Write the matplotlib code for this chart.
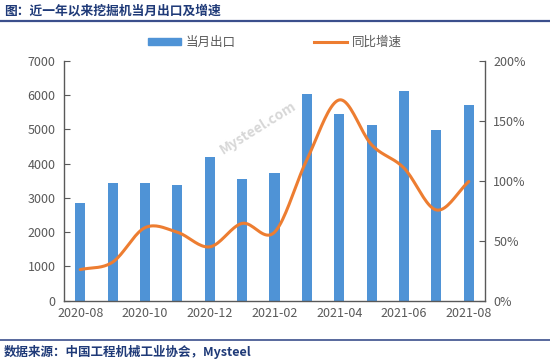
import numpy as np
import matplotlib
matplotlib.use("Agg")
import matplotlib.pyplot as plt
from matplotlib.ticker import FuncFormatter, MultipleLocator
from matplotlib.patches import Patch
from matplotlib.lines import Line2D

plt.rcParams['font.family'] = ['Noto Sans CJK SC', 'DejaVu Sans']

months = ["2020-08", "2020-09", "2020-10", "2020-11", "2020-12", "2021-01", "2021-02",
          "2021-03", "2021-04", "2021-05", "2021-06", "2021-07", "2021-08"]
exports = [2840, 3420, 3420, 3380, 4200, 3550, 3720, 6040, 5450, 5140, 6110, 4990, 5700]
growth = [25.8, 32, 60.8, 57, 44.8, 64.4, 57, 117.6, 167.5, 130, 110.6, 75.6, 99.4]

title = "图：近一年以来挖掘机当月出口及增速"
source = "数据来源：中国工程机械工业协会，Mysteel"

BLUE = "#4f93d6"
ORANGE = "#ed7d31"
GREY = "#595959"
NAVY = "#1f3a78"
W, H = 550, 361


def smooth(xs, ys, n=20):
    xs = np.asarray(xs, float); ys = np.asarray(ys, float)
    px = np.concatenate([[2 * xs[0] - xs[1]], xs, [2 * xs[-1] - xs[-2]]])
    py = np.concatenate([[2 * ys[0] - ys[1]], ys, [2 * ys[-1] - ys[-2]]])
    ox, oy = [], []
    for i in range(1, len(px) - 2):
        t = np.linspace(0, 1, n, endpoint=False)
        for arr, out in ((px, ox), (py, oy)):
            p0, p1, p2, p3 = arr[i - 1], arr[i], arr[i + 1], arr[i + 2]
            out.extend(0.5 * ((2 * p1) + (-p0 + p2) * t + (2 * p0 - 5 * p1 + 4 * p2 - p3) * t ** 2
                              + (-p0 + 3 * p1 - 3 * p2 + p3) * t ** 3))
    ox.append(xs[-1]); oy.append(ys[-1])
    return np.array(ox), np.array(oy)


fig = plt.figure(figsize=(5.5, 3.61), dpi=100)
ax = fig.add_axes([64 / W, 1 - 300.5 / H, (485 - 64) / W, (300.5 - 61) / H])
x = np.arange(len(months))
ax.bar(x, exports, width=0.31, color=BLUE, zorder=2, label="当月出口")
ax.set_ylim(0, 7000)
ax.set_xlim(-0.5, len(months) - 0.5)
ax.yaxis.set_major_locator(MultipleLocator(1000))
ax.set_xticks(x[::2])
ax.set_xticklabels(months[::2])

ax2 = ax.twinx()
sx, sy = smooth(x, growth)
ax2.plot(sx, sy, color=ORANGE, lw=2.2, zorder=3, label="同比增速", solid_capstyle='round')
ax2.set_ylim(0, 200)
ax2.yaxis.set_major_locator(MultipleLocator(50))
ax2.yaxis.set_major_formatter(FuncFormatter(lambda v, p: f"{v:.0f}%"))

for a in (ax, ax2):
    a.spines["top"].set_visible(False)
    for s in ("left", "right", "bottom"):
        a.spines[s].set_color(GREY)
        a.spines[s].set_linewidth(1.0)
ax.spines["right"].set_visible(False)
ax2.spines["left"].set_visible(False)
ax2.spines["bottom"].set_visible(False)

ax.tick_params(axis='y', direction='in', length=4, color=GREY, labelcolor=GREY, labelsize=9, pad=6)
ax.tick_params(axis='x', length=0, labelcolor=GREY, labelsize=9, pad=5)
ax2.tick_params(axis='y', direction='in', length=4, color=GREY, labelcolor=GREY, labelsize=9, pad=6)

# legend
handles = [Patch(color=BLUE), Line2D([0], [0], color=ORANGE, lw=2.2)]
fig.legend(handles, ["当月出口", "同比增速"], loc='center', bbox_to_anchor=(0.5, 1 - 42 / H), ncol=2,
           frameon=False, fontsize=9, labelcolor=GREY, handlelength=2.6, handleheight=0.5,
           columnspacing=6.3, handletextpad=0.4, borderpad=0)

# watermark
fig.text(258 / W, 1 - 128 / H, "Mysteel.com", rotation=32, color="#bdbdbd", alpha=0.6, fontsize=10,
         ha='center', va='center', fontweight='bold', zorder=0)

# title and source
fig.text(4 / W, 1 - 11 / H, title, fontsize=9.2, fontweight='bold', color=NAVY, ha='left', va='center')
fig.add_artist(Line2D([0, 1], [1 - 20.5 / H, 1 - 20.5 / H], color="#3b4f8c", lw=1.6))
fig.add_artist(Line2D([0, 1], [1 - 340 / H, 1 - 340 / H], color="#3b4f8c", lw=1.2))
fig.text(4 / W, 1 - 352 / H, source, fontsize=9, fontweight='bold', color=NAVY, ha='left', va='center')

fig.savefig("out.png", dpi=100)
